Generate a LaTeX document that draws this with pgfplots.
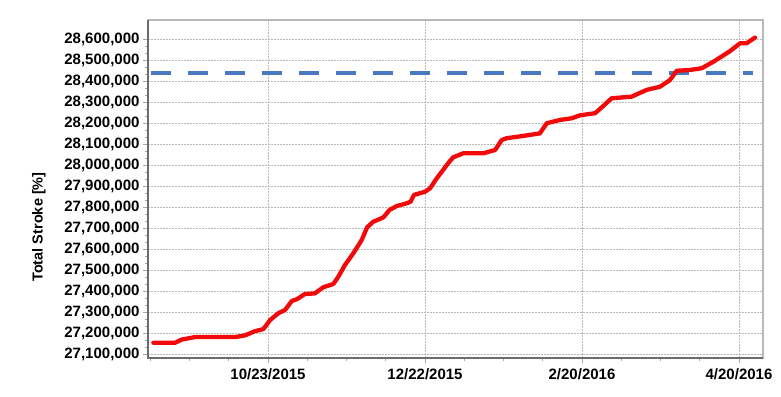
\documentclass[border=0pt]{standalone}
\usepackage{fontspec}
\setmainfont{Liberation Sans}
\usepackage{pgfplots}
\pgfplotsset{compat=1.18}
\definecolor{refblue}{HTML}{4A78C2}
\definecolor{refred}{HTML}{F20A0A}
\begin{document}
\begin{tikzpicture}
\path[use as bounding box] (0,0) rectangle (781pt,396pt);
\begin{axis}[
  at={(148pt,38pt)}, anchor=south west,
  scale only axis, width=615pt, height=338pt,
  xmin=-45.86, xmax=189.17,
  ymin=27082381, ymax=28691905,
  xtick={0,60,120,180},
  xticklabels={10/23/2015,12/22/2015,2/20/2016,4/20/2016},
  minor xtick={-45,-30,-15,15,30,45,75,90,105,135,150,165},
  ytick={27100000,27200000,27300000,27400000,27500000,27600000,27700000,27800000,27900000,28000000,28100000,28200000,28300000,28400000,28500000,28600000},
  minor y tick num=2,
  scaled y ticks=false,
  yticklabel style={/pgf/number format/.cd, fixed, precision=0, 1000 sep={,}},
  xticklabel style={yshift=-2pt},
  /pgf/number format/assume math mode=true,
  tick label style={font=\fontsize{15}{18}\selectfont\bfseries},
  tick align=outside, tick pos=left,
  major tick length=5pt, minor tick length=3pt,
  tick style={draw=gray!70, line width=0.8pt},
  grid=major,
  major grid style={draw=gray!55, line width=0.6pt, dash pattern=on 2pt off 1pt},
  axis line style={draw=gray!55, line width=1.2pt},
  clip=false,
]
\addplot[color=refblue, line width=4pt, dash pattern=on 20pt off 17pt] coordinates {(-44.7,28440000) (185.4,28440000)};
\addplot[color=refred, line width=4.3pt, line join=round, line cap=round] coordinates {
(-43.8,27155000) (-35.5,27155000) (-33.0,27170000) (-27.9,27182000) (-12.6,27182000)
(-8.8,27190000) (-5.0,27210000) (-1.8,27220000) (0.8,27263000) (3.9,27295000)
(6.5,27311000) (9.1,27354000) (11.0,27362000) (14.1,27387000) (17.9,27390000)
(21.1,27419000) (25.0,27435000) (26.9,27470000) (29.4,27525000) (32.6,27581000)
(35.8,27644000) (37.9,27705000) (40.2,27731000) (44.1,27752000) (46.4,27787000)
(49.2,27806000) (53.0,27819000) (54.5,27827000) (55.8,27859000) (60.0,27874000)
(61.9,27890000) (64.5,27938000) (69.3,28017000) (70.8,28038000) (74.6,28057000)
(82.3,28057000) (86.8,28073000) (89.3,28120000) (91.2,28129000) (97.6,28140000)
(103.9,28152000) (106.5,28200000) (111.6,28216000) (116.1,28224000) (119.2,28238000)
(125.0,28248000) (128.1,28282000) (131.3,28319000) (139.0,28327000) (144.7,28359000)
(149.8,28374000) (153.6,28406000) (156.2,28450000) (161.3,28454000) (165.7,28462000)
(170.2,28493000) (176.6,28544000) (180.4,28581000) (182.9,28581000) (186.1,28608000)
};
\draw[draw=gray!85!black, line width=2pt] (rel axis cs:0,1) -- (rel axis cs:0,0) -- (rel axis cs:1,0);
\end{axis}
\node[rotate=90, font=\fontsize{14.5}{16}\selectfont\bfseries] at (39pt,169pt) {Total Stroke [\%]};
\end{tikzpicture}
\end{document}
